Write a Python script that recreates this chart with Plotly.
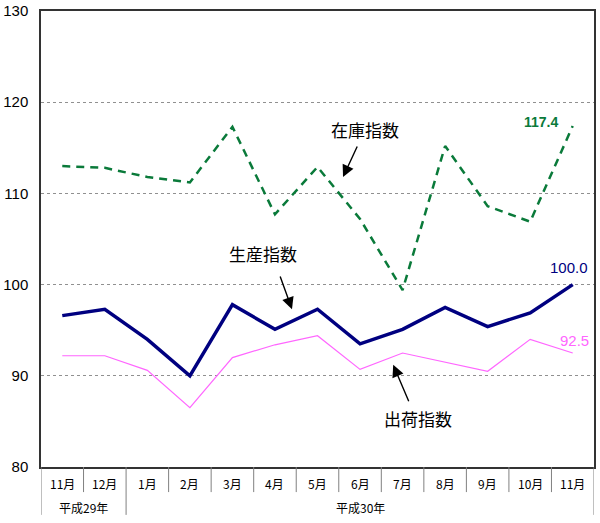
import plotly.graph_objects as go

months = ["11月", "12月", "1月", "2月", "3月", "4月", "5月", "6月", "7月", "8月", "9月", "10月", "11月"]
year_labels = ["平成29年", "平成30年"]
year_spans = [(0, 1), (2, 12)]

production = [96.6, 97.3, 94.0, 90.0, 97.8, 95.1, 97.3, 93.5, 95.1, 97.5, 95.4, 96.9, 100.0]
shipment = [92.2, 92.2, 90.6, 86.5, 92.0, 93.4, 94.4, 90.7, 92.5, 91.5, 90.5, 94.0, 92.5]
inventory = [113.0, 112.8, 111.8, 111.2, 117.3, 107.7, 112.9, 107.2, 99.4, 115.2, 108.6, 106.9, 117.4]

x = list(range(len(months)))

GREEN = "#0A7A3A"
NAVY = "#000080"
PINK = "#FF66FF"
JP = "Noto Sans CJK JP"

fig = go.Figure()
fig.add_trace(go.Scatter(x=x, y=inventory, mode="lines",
                         line=dict(color=GREEN, width=2.5, dash="8px,6px"), name="在庫指数"))
fig.add_trace(go.Scatter(x=x, y=shipment, mode="lines",
                         line=dict(color=PINK, width=1.2), name="出荷指数"))
fig.add_trace(go.Scatter(x=x, y=production, mode="lines",
                         line=dict(color=NAVY, width=3.5), name="生産指数"))

ann = []
# month labels
for i, m in enumerate(months):
    ann.append(dict(x=i, y=-0.036, xref="x", yref="paper", text=m, showarrow=False,
                    font=dict(family=JP, size=12, color="#000"), yanchor="middle"))
for (a, b), lab in zip(year_spans, year_labels):
    ann.append(dict(x=(a + b) / 2, y=-0.088, xref="x", yref="paper", text=lab, showarrow=False,
                    font=dict(family=JP, size=12, color="#000"), yanchor="middle"))

# series labels
ann.append(dict(x=7.12, y=117.0, text="在庫指数", showarrow=False,
                font=dict(family=JP, size=17, color="#000")))
ann.append(dict(x=4.72, y=103.4, text="生産指数", showarrow=False,
                font=dict(family=JP, size=17, color="#000")))
ann.append(dict(x=8.36, y=85.3, text="出荷指数", showarrow=False,
                font=dict(family=JP, size=17, color="#000")))

# arrows
for hx, hy, tx, ty in [(6.60, 111.8, 6.95, 115.3), (5.40, 97.3, 5.11, 101.05), (7.78, 91.2, 8.16, 87.05)]:
    ann.append(dict(x=hx, y=hy, ax=tx, ay=ty, xref="x", yref="y", axref="x", ayref="y",
                    text="", showarrow=True, arrowhead=2, arrowsize=1.7, arrowwidth=1.4,
                    arrowcolor="#000"))

# end value labels
ann.append(dict(x=11.25, y=117.8, text="<b>%.1f</b>" % inventory[-1], showarrow=False,
                font=dict(family="Liberation Sans, Arial", size=14, color=GREEN)))
ann.append(dict(x=11.91, y=101.9, text="%.1f" % production[-1], showarrow=False,
                font=dict(family="Liberation Sans, Arial", size=15, color=NAVY)))
ann.append(dict(x=12.03, y=93.9, text="%.1f" % shipment[-1], showarrow=False,
                font=dict(family="Liberation Sans, Arial", size=15, color=PINK)))

shapes = []
n = len(months)
for k in range(n + 1):
    xb = k - 0.5
    long = xb in (-0.5, 1.5, n - 0.5)
    shapes.append(dict(type="line", xref="x", yref="paper", x0=xb, x1=xb, y0=0,
                       y1=-0.105 if long else -0.055,
                       line=dict(color="#808080", width=1)))

fig.update_layout(
    width=600, height=523,
    margin=dict(l=41, r=6, t=11, b=56, autoexpand=False),
    paper_bgcolor="white", plot_bgcolor="white",
    showlegend=False,
    annotations=ann, shapes=shapes,
    xaxis=dict(range=[-0.5, n - 0.5], showticklabels=False, showgrid=False, zeroline=False,
               showline=True, linecolor="#333", linewidth=1.5, mirror=True, ticks="",
               automargin=False),
    yaxis=dict(range=[80, 130], dtick=10, tick0=80, showgrid=True,
               gridcolor="#909090", griddash="dot", gridwidth=1, zeroline=False,
               showline=True, linecolor="#333", linewidth=1.5, mirror=True,
               ticks="", ticklabelstandoff=8, automargin=False,
               tickfont=dict(family="Liberation Sans, Arial", size=15, color="#000")),
)

fig.write_html("out.html", config={"displayModeBar": False},
               post_script="document.body.style.margin='0';document.body.style.overflow='hidden';")
